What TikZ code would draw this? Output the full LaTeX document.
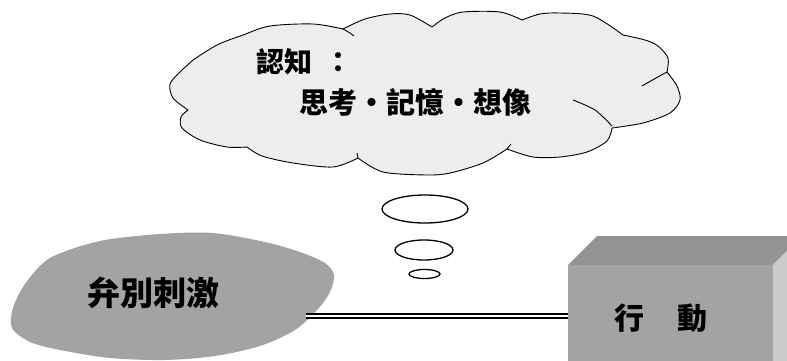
\documentclass[tikz,border=0pt]{standalone}
\usepackage{fontspec}
\newfontfamily\cjk{Noto Sans CJK TC}
\begin{document}
\begin{tikzpicture}[x=1pt,y=-1pt,
  cloudline/.style={draw=black,line width=0.9pt,line join=round},
  bubble/.style={draw=black,line width=1.3pt,fill=white},
  lbl/.style={inner sep=0pt,font=\cjk\bfseries},
  dbl/.style={draw=black,line width=2.3pt,double=white,double distance=1.8pt}]
\useasboundingbox (0,0) rectangle (787,361);
\clip (0,0) rectangle (787,361);
\fill[white] (0,0) rectangle (787,361);
% cloud
\path[cloudline,fill=black!7]
  plot[smooth] coordinates {(193,60) (217,45) (243,35) (270,26) (313,24) (343,29)}
  -- plot[smooth] coordinates {(343,29) (365,19) (390,14) (410,15) (432,27)}
  -- plot[smooth] coordinates {(432,27) (445,18) (463,12) (500,12) (522,20)}
  -- plot[smooth] coordinates {(522,20) (540,14) (560,13) (593,16) (623,35)}
  -- plot[smooth] coordinates {(623,35) (645,40) (658,46) (668,58) (667,72)}
  -- plot[smooth] coordinates {(667,72) (677,86) (680,100) (670,113) (643,123) (612,128)}
  -- plot[smooth] coordinates {(612,128) (607,141) (587,152) (560,157) (533,157) (507,149)}
  -- plot[smooth] coordinates {(507,149) (483,163) (450,173) (427,175) (383,172) (358,158)}
  -- plot[smooth] coordinates {(358,158) (333,167) (293,163) (262,156) (247,147)}
  -- plot[smooth] coordinates {(247,147) (227,147) (200,140) (182,128) (181,117) (188,110)}
  -- plot[smooth] coordinates {(188,110) (173,98) (170,84) (180,72) (193,60)}
  -- cycle;
\draw[cloudline] plot[smooth] coordinates {(343,29) (350,33) (354,36)};
\draw[cloudline] plot[smooth] coordinates {(573,100) (595,110) (612,126)};
\draw[cloudline] plot[smooth] coordinates {(642,86) (656,78) (667,72)};
\draw[cloudline] (507,149) -- (511,144);
\draw[cloudline] (358,158) -- (357,153);
\node[lbl,anchor=west,font=\cjk\bfseries\fontsize{28pt}{28pt}\selectfont] (cog) at (256,62) {認知\hspace{12pt}：};
\node[lbl,font=\cjk\bfseries\fontsize{29pt}{29pt}\selectfont] (cogsub) at (415,102) {思考・記憶・想像};
% thought bubbles
\draw[bubble] (425,209) ellipse [x radius=43, y radius=14];
\draw[bubble] (424,250) ellipse [x radius=29, y radius=10];
\draw[bubble] (424.5,274) ellipse [x radius=15.5, y radius=4.5];
% stimulus blob
\fill[black!36] plot[smooth cycle] coordinates {(50,258) (100,241) (160,234) (213,233) (265,242) (300,252) (325,263) (334,275) (330,292) (318,309) (295,330) (260,346) (215,356) (165,360) (110,358) (60,350) (30,342) (12,328) (13,308) (25,284)};
\node[lbl,font=\cjk\bfseries\fontsize{33pt}{33pt}\selectfont] (stim) at (153,293) {弁別刺激};
% behaviour box
\fill[black!42] (568,265) -- (597,236) -- (802,236) -- (773,265) -- cycle;
\fill[black!20] (773,265) -- (802,236) -- (802,370) -- (773,370) -- cycle;
\fill[black!36] (568,265) rectangle (773,370);
\node[lbl,font=\cjk\bfseries\fontsize{30pt}{30pt}\selectfont] (act) at (661,318) {行\hspace{34pt}動};
% connector
\coordinate (stimR) at (306,316);
\coordinate (actL) at (568,316);
\draw[dbl] (stimR) -- (actL);
\end{tikzpicture}
\end{document}
